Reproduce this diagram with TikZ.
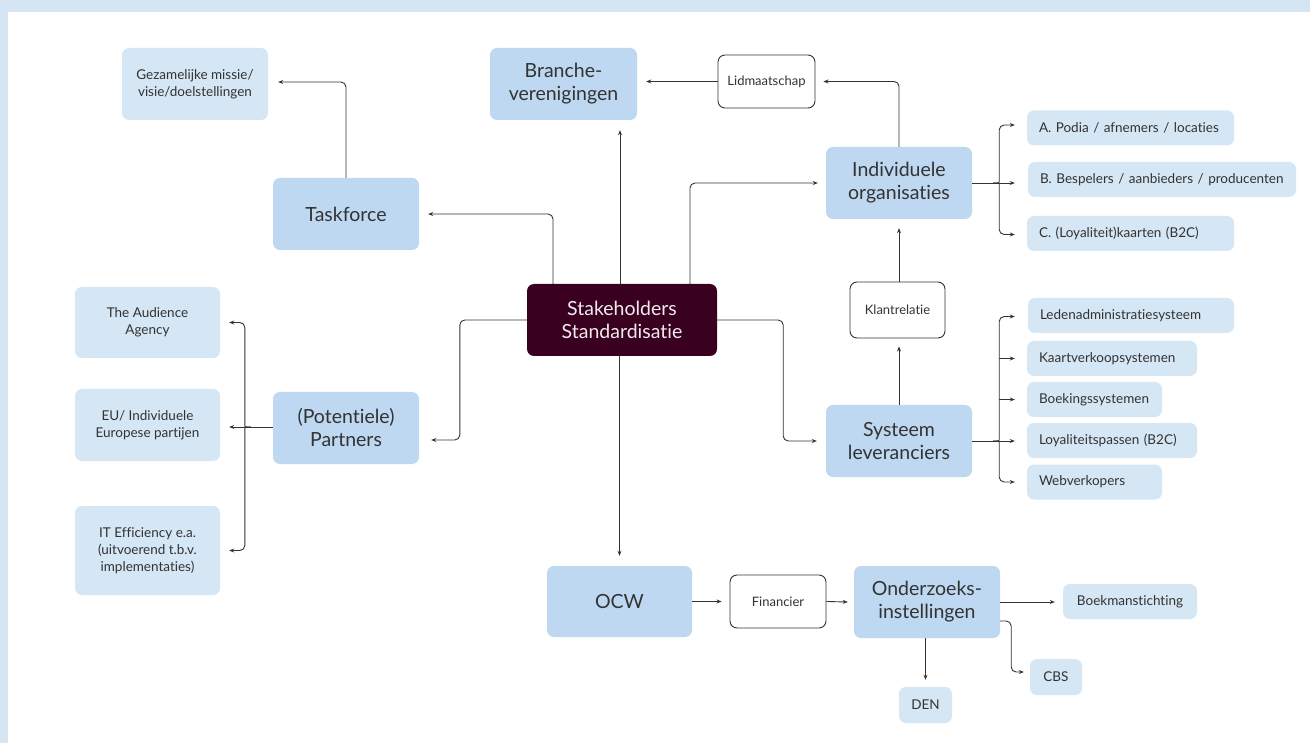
\documentclass[tikz,border=0pt]{standalone}
\usepackage{fontspec}
\setmainfont{Lato}[Ligatures={NoCommon}]
\usetikzlibrary{arrows.meta,calc}
\definecolor{frameblue}{HTML}{D5E5F3}
\definecolor{mainblue}{HTML}{BDD8F0}
\definecolor{lightblue}{HTML}{D5E6F4}
\definecolor{plum}{HTML}{3A0020}
\definecolor{ink}{HTML}{333333}
\definecolor{wire}{HTML}{333333}
\tikzset{
  mainbox/.style={fill=mainblue, rounded corners=7pt, text=ink, align=center,
    font=\fontsize{19.5}{23}\selectfont, inner sep=0pt},
  subbox/.style={fill=lightblue, rounded corners=7pt, text=ink, align=center,
    font=\fontsize{13.5}{17}\selectfont, inner sep=0pt},
  listbox/.style={fill=lightblue, rounded corners=7pt, text=ink, align=left,
    font=\fontsize{13.5}{17}\selectfont, inner sep=0pt, text width=#1, minimum height=35pt},
  tagbox/.style={draw=wire, line width=0.9pt, fill=white, rounded corners=7pt, text=ink,
    align=center, font=\fontsize{13}{16}\selectfont, inner sep=0pt},
  conn/.style={draw=wire, line width=0.9pt, rounded corners=5pt,
    -{Stealth[length=5pt,width=4pt]}},
}
\begin{document}
\begin{tikzpicture}[x=1pt,y=-1pt]
% page frame
\fill[frameblue] (0,0) rectangle (1310,743);
\fill[white] (8,12) rectangle (1310,743);
\useasboundingbox (0,0) rectangle (1310,743);

% central node
\node[fill=plum, rounded corners=7pt, text={white!92!plum}, align=center,
  font=\fontsize{19.5}{23}\selectfont, minimum width=190pt, minimum height=72pt, inner sep=0pt]
  (stake) at (622,320) {Stakeholders\\Standardisatie};

% main groups
\node[mainbox, minimum width=146pt, minimum height=72pt] (task) at (346,214) {Taskforce};
\node[mainbox, minimum width=147pt, minimum height=72pt] (branche) at (563.5,84) {Branche-\\verenigingen};
\node[mainbox, minimum width=146pt, minimum height=72pt] (indiv) at (899,183) {Individuele\\organisaties};
\node[mainbox, minimum width=146pt, minimum height=72pt] (sys) at (899,441) {Systeem\\leveranciers};
\node[mainbox, minimum width=146pt, minimum height=72pt] (partners) at (346,428) {(Potentiele)\\Partners};
\node[mainbox, minimum width=145pt, minimum height=71pt] (ocw) at (619.5,601.5) {OCW};
\node[mainbox, minimum width=146pt, minimum height=72pt] (onder) at (927,602) {Onderzoeks-\\instellingen};

% relation tags
\node[tagbox, minimum width=97pt, minimum height=53pt] (lid) at (766.5,81.5) {Lidmaatschap};
\node[tagbox, minimum width=95pt, minimum height=56pt] (klant) at (897.5,310) {Klantrelatie};
\node[tagbox, minimum width=96pt, minimum height=53pt] (fin) at (778,601.5) {Financier};

% secondary items
\node[subbox, minimum width=146pt, minimum height=72pt] (gezam) at (195,84) {Gezamelijke missie/\\visie/doelstellingen};
\node[subbox, minimum width=145pt, minimum height=71pt] (audience) at (147.5,322.5) {The Audience\\Agency};
\node[subbox, minimum width=145pt, minimum height=72pt] (eu) at (147.5,425) {EU/ Individuele\\Europese partijen};
\node[subbox, minimum width=145pt, minimum height=89pt] (it) at (147.5,550.5) {IT Efficiency e.a.\\(uitvoerend t.b.v.\\implementaties)};

\node[listbox=183pt, minimum width=207pt] (A) at (1130.5,128) {A. Podia / afnemers / locaties};
\node[listbox=244pt, minimum width=268pt] (B) at (1162,179.5) {B. Bespelers / aanbieders / producenten};
\node[listbox=183pt, minimum width=207pt] (C) at (1130.5,233.5) {C. (Loyaliteit)kaarten (B2C)};

\node[listbox=182pt, minimum width=206pt] (leden) at (1131,315.5) {Ledenadministratiesysteem};
\node[listbox=146pt, minimum width=170pt] (kaart) at (1112,358.5) {Kaartverkoopsystemen};
\node[listbox=111pt, minimum width=135pt] (boek) at (1094.5,399.5) {Boekingssystemen};
\node[listbox=146pt, minimum width=170pt] (loyal) at (1112,440.5) {Loyaliteitspassen (B2C)};
\node[listbox=111pt, minimum width=135pt] (web) at (1094.5,482) {Webverkopers};

\node[subbox, minimum width=134pt, minimum height=35pt] (boekman) at (1130,601.5) {Boekmanstichting};
\node[subbox, minimum width=52pt, minimum height=36pt] (cbs) at (1056,677) {CBS};
\node[subbox, minimum width=53pt, minimum height=36pt] (den) at (925.5,705) {DEN};

% helper points for the connectors
\coordinate (stN1) at ([xshift=-69pt]stake.north);
\coordinate (stN2) at ([xshift=-2pt]stake.north);
\coordinate (stN3) at ([xshift=68pt]stake.north);
\coordinate (stE)  at ([xshift=66pt]stake.east);
\coordinate (stW)  at ([xshift=-67pt]stake.west);
\coordinate (brS)  at ([yshift=-10pt]branche.south);
\coordinate (brE)  at ([xshift=9pt]branche.east);
\coordinate (taE)  at ([xshift=9pt]task.east);
\coordinate (inW)  at ([xshift=-8pt]indiv.west);
\coordinate (inS)  at ([yshift=-9pt]indiv.south);
\coordinate (syW)  at ([xshift=-9pt]sys.west);
\coordinate (paE)  at ([xshift=12pt,yshift=-12pt]partners.east);
\coordinate (ocN)  at ([yshift=10pt]ocw.north);
\coordinate (geE)  at ([xshift=10pt,yshift=2pt]gezam.east);
\coordinate (liE)  at ([xshift=8pt]lid.east);
\coordinate (klS)  at ([yshift=-8pt]klant.south);
\coordinate (fiW)  at ([xshift=-8pt]fin.west);
\coordinate (onW)  at ([xshift=-6pt]onder.west);
\coordinate (bmW)  at ([xshift=-8pt]boekman.west);
\coordinate (deN)  at ([yshift=7pt]den.north);
\coordinate (onE2) at ([yshift=-19pt]onder.east);
\coordinate (onE3) at ([xshift=11pt,yshift=-19pt]onder.east);
\coordinate (cbW)  at ([xshift=-6pt,yshift=5pt]cbs.west);

% connectors from the central node
\draw[conn] (stN1) |- (taE);
\draw[conn] (stN2) -- (stN2 |- brS);
\draw[conn] (stN3) |- (inW);
\draw[conn] (stake.east) -- (stE) |- (syW);
\draw[conn] (stake.west) -- (stW) |- (paE);
\draw[conn] (stake.south -| ocw) -- (ocN);

% upper chain
\draw[conn] (task.north) |- (geE);
\draw[conn] (indiv.north) |- (liE);
\draw[conn] (lid.west) -- (brE |- lid.west);
\draw[conn] (indiv.south |- klant.north) -- (inS);
\draw[conn] (sys.north) -- (klS -| sys);

% lower chain
\draw[conn] (ocw.east) -- (fiW);
\draw[conn] (fin.east) -- (onW);
\draw[conn] (onder.east) -- (bmW |- onder.east);
\draw[conn] (onder.south -| den) -- (deN);
\draw[conn] (onE2) -- (onE3) |- (cbW);

% brace fan: individual organisations
\coordinate (ib)  at ([xshift=27pt]indiv.east);
\coordinate (ibl) at ([xshift=-6pt]ib);
\coordinate (ibu) at ([yshift=6pt]ib);
\coordinate (ibd) at ([yshift=-6pt]ib);
\coordinate (aT)  at ([xshift=-12pt,yshift=3pt]A.west);
\coordinate (bT)  at ([xshift=-13pt]B.west);
\coordinate (cT)  at ([xshift=-12pt,yshift=-1pt]C.west);
\draw[conn] (indiv.east) -- (bT |- indiv.east);
\draw[conn] (ibl) .. controls (ib) .. (ibu) -- (ib |- aT) -- (aT);
\draw[conn] (ibl) .. controls (ib) .. (ibd) -- (ib |- cT) -- (cT);

% brace fan: system suppliers
\coordinate (sb)  at ([xshift=27pt]sys.east);
\coordinate (sbl) at ([xshift=-6pt]sb);
\coordinate (sbu) at ([yshift=6pt]sb);
\coordinate (sbd) at ([yshift=-6pt]sb);
\coordinate (leT) at ([xshift=-13pt,yshift=-1pt]leden.west);
\coordinate (kaT) at ([xshift=-12pt]kaart.west);
\coordinate (boT) at ([xshift=-12pt]boek.west);
\coordinate (loT) at ([xshift=-12pt]loyal.west);
\coordinate (weT) at ([xshift=-12pt]web.west);
\draw[conn] (sys.east) -- (loT |- sys.east);
\draw[conn] (sbl) .. controls (sb) .. (sbu) -- (sb |- leT) -- (leT);
\draw[conn] (sbl) .. controls (sb) .. (sbd) -- (sb |- weT) -- (weT);
\draw[conn] (sb |- kaT) -- (kaT);
\draw[conn] (sb |- boT) -- (boT);

% brace fan: partners
\coordinate (pw)  at ([yshift=1pt]partners.west);
\coordinate (pb)  at ([xshift=-28pt]pw);
\coordinate (pbr) at ([xshift=6pt]pb);
\coordinate (pbu) at ([yshift=6pt]pb);
\coordinate (pbd) at ([yshift=-6pt]pb);
\coordinate (auT) at ([xshift=9pt]audience.east);
\coordinate (euT) at ([xshift=9pt]eu.east);
\coordinate (itT) at ([xshift=9pt]it.east);
\draw[conn] (pw) -- (euT |- pw);
\draw[conn] (pbr) .. controls (pb) .. (pbu) -- (pb |- auT) -- (auT);
\draw[conn] (pbr) .. controls (pb) .. (pbd) -- (pb |- itT) -- (itT);
\end{tikzpicture}
\end{document}
